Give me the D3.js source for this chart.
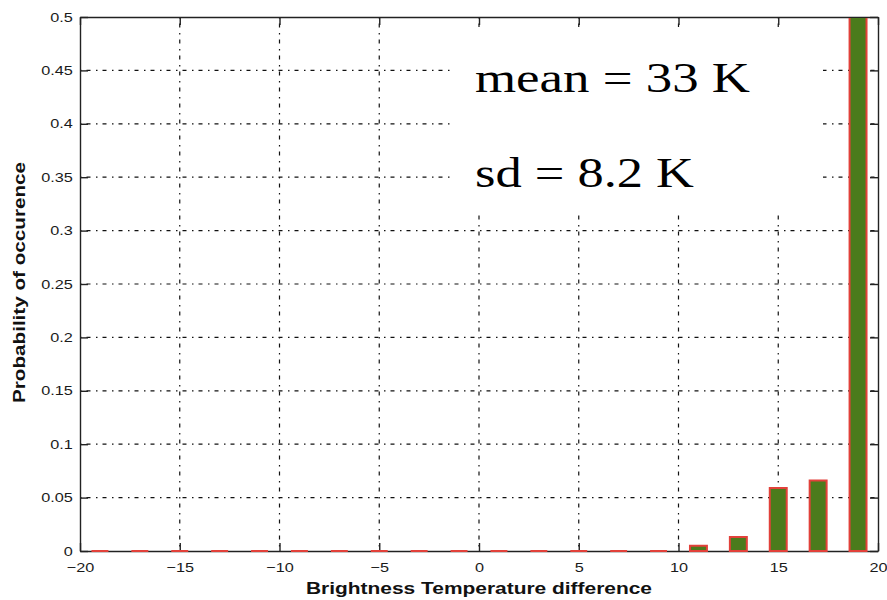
<!DOCTYPE html>
<html>
<head>
<meta charset="utf-8">
<script src="https://cdn.jsdelivr.net/npm/d3@7"></script>
<style>
  html, body { margin: 0; padding: 0; background: #fff; }
  svg { display: block; }
  .tick text { font-family: "Liberation Sans", Arial, Helvetica, sans-serif; font-size: 13px; fill: #1a1a1a; }
</style>
</head>
<body>
<svg id="chart" width="887" height="600"></svg>
<script>
// Histogram bins: centres of 2 K wide bins and their probabilities
const binCentres = [-19, -17, -15, -13, -11, -9, -7, -5, -3, -1, 1, 3, 5, 7, 9, 11, 13, 15, 17, 19];
const probabilities = [0, 0, 0, 0, 0, 0, 0, 0, 0, 0, 0, 0, 0, 0, 0, 0.005, 0.013, 0.059, 0.066, 0.857];

// Axis ticks
const xTicks = [-20, -15, -10, -5, 0, 5, 10, 15, 20];
const xTickLabels = ["\u221220", "\u221215", "\u221210", "\u22125", "0", "5", "10", "15", "20"];
const yTicks = [0, 0.05, 0.1, 0.15, 0.2, 0.25, 0.3, 0.35, 0.4, 0.45, 0.5];
const yTickLabels = ["0", "0.05", "0.1", "0.15", "0.2", "0.25", "0.3", "0.35", "0.4", "0.45", "0.5"];

// Text
const xLabel = "Brightness Temperature difference";
const yLabel = "Probability of occurence";
const statsLines = ["mean = 33 K", "sd = 8.2 K"];

const svg = d3.select("#chart");
const plotLeft = 80, plotRight = 878, plotTop = 17, plotBottom = 551;
const x = d3.scaleLinear().domain([-20, 20]).range([plotLeft, plotRight]);
const y = d3.scaleLinear().domain([0, 0.5]).range([plotBottom, plotTop]);
const stretch = 1.25;
const ink = "#222";

// Dotted grid
const grid = svg.append("g").attr("stroke", "#111").attr("stroke-width", 1.2)
  .attr("stroke-dasharray", "1.5,5,4,5.5");
grid.selectAll("line.v").data(xTicks.slice(1, -1)).join("line").attr("class", "v")
  .attr("x1", d => x(d)).attr("x2", d => x(d)).attr("y1", plotTop).attr("y2", plotBottom);
grid.selectAll("line.h").data(yTicks.slice(1, -1)).join("line").attr("class", "h")
  .attr("x1", plotLeft).attr("x2", plotRight).attr("y1", d => y(d)).attr("y2", d => y(d));

// White panel behind the statistics
svg.append("rect").attr("x", 452).attr("y", 27).attr("width", 371).attr("height", 187).attr("fill", "#fff");

// Axes with inward ticks
function styleAxis(g) {
  g.select(".domain").attr("stroke", ink).attr("stroke-width", 1.4);
  g.selectAll(".tick line").attr("stroke", ink).attr("stroke-width", 1.4);
}
const xi = (d) => xTicks.indexOf(d);
const yi = (d) => yTicks.findIndex(v => Math.abs(v - d) < 1e-9);

const gx = svg.append("g").attr("transform", `translate(0,${plotBottom})`)
  .call(d3.axisBottom(x).tickValues(xTicks).tickSizeInner(-8).tickSizeOuter(0).tickPadding(12)
    .tickFormat(d => xTickLabels[xi(d)]));
gx.call(styleAxis);
gx.selectAll(".tick text").attr("transform", `scale(${stretch},1)`);

const gy = svg.append("g").attr("transform", `translate(${plotLeft},0)`)
  .call(d3.axisLeft(y).tickValues(yTicks).tickSizeInner(-8).tickSizeOuter(0).tickPadding(5.8)
    .tickFormat(d => yTickLabels[yi(d)]));
gy.call(styleAxis);
gy.selectAll(".tick text").attr("transform", `scale(${stretch},1)`);

const gt = svg.append("g").attr("transform", `translate(0,${plotTop})`)
  .call(d3.axisTop(x).tickValues(xTicks).tickSizeInner(-8).tickSizeOuter(0).tickFormat(""));
gt.call(styleAxis);
const gr = svg.append("g").attr("transform", `translate(${plotRight},0)`)
  .call(d3.axisRight(y).tickValues(yTicks).tickSizeInner(-8).tickSizeOuter(0).tickFormat(""));
gr.call(styleAxis);

// Bars, clipped to the plot frame
svg.append("clipPath").attr("id", "plotClip").append("rect")
  .attr("x", plotLeft).attr("y", plotTop + 1).attr("width", plotRight - plotLeft).attr("height", plotBottom - plotTop + 2);
const halfWidth = (x(0.85) - x(0)) / 2;
const bars = binCentres.map((c, i) => ({ c, p: probabilities[i] }));
svg.append("g").attr("clip-path", "url(#plotClip)")
  .selectAll("path").data(bars).join("path")
  .attr("d", d => {
    const x0 = x(d.c) - halfWidth, x1 = x(d.c) + halfWidth;
    const y0 = y(0), y1 = y(d.p);
    return `M${x0},${y0}V${y1}H${x1}V${y0}Z`;
  })
  .attr("fill", "#4b7b1c")
  .attr("stroke", "#e2413a")
  .attr("stroke-width", 2);

// Axis titles
svg.append("text")
  .attr("x", (plotLeft + plotRight) / 2).attr("y", 594)
  .attr("text-anchor", "middle")
  .attr("textLength", 346).attr("lengthAdjust", "spacingAndGlyphs")
  .style("font-family", "'Liberation Sans', Arial, sans-serif").style("font-weight", "bold")
  .style("font-size", "16px").attr("fill", "#111")
  .text(xLabel);

svg.append("text")
  .attr("transform", `translate(25,${(162 + 403) / 2}) rotate(-90)`)
  .attr("text-anchor", "middle")
  .attr("textLength", 241).attr("lengthAdjust", "spacingAndGlyphs")
  .style("font-family", "'Liberation Sans', Arial, sans-serif").style("font-weight", "bold")
  .style("font-size", "16px").attr("fill", "#111")
  .text(yLabel);

// Summary statistics
const statsWidths = [275, 219];
const statsBaselines = [92, 187];
svg.selectAll("text.stats").data(statsLines).join("text")
  .attr("class", "stats")
  .attr("x", 475).attr("y", (d, i) => statsBaselines[i])
  .attr("textLength", (d, i) => statsWidths[i]).attr("lengthAdjust", "spacingAndGlyphs")
  .style("font-family", "'Liberation Serif', 'Times New Roman', serif")
  .style("font-size", "43px").attr("fill", "#000")
  .text(d => d);
</script>
</body>
</html>
